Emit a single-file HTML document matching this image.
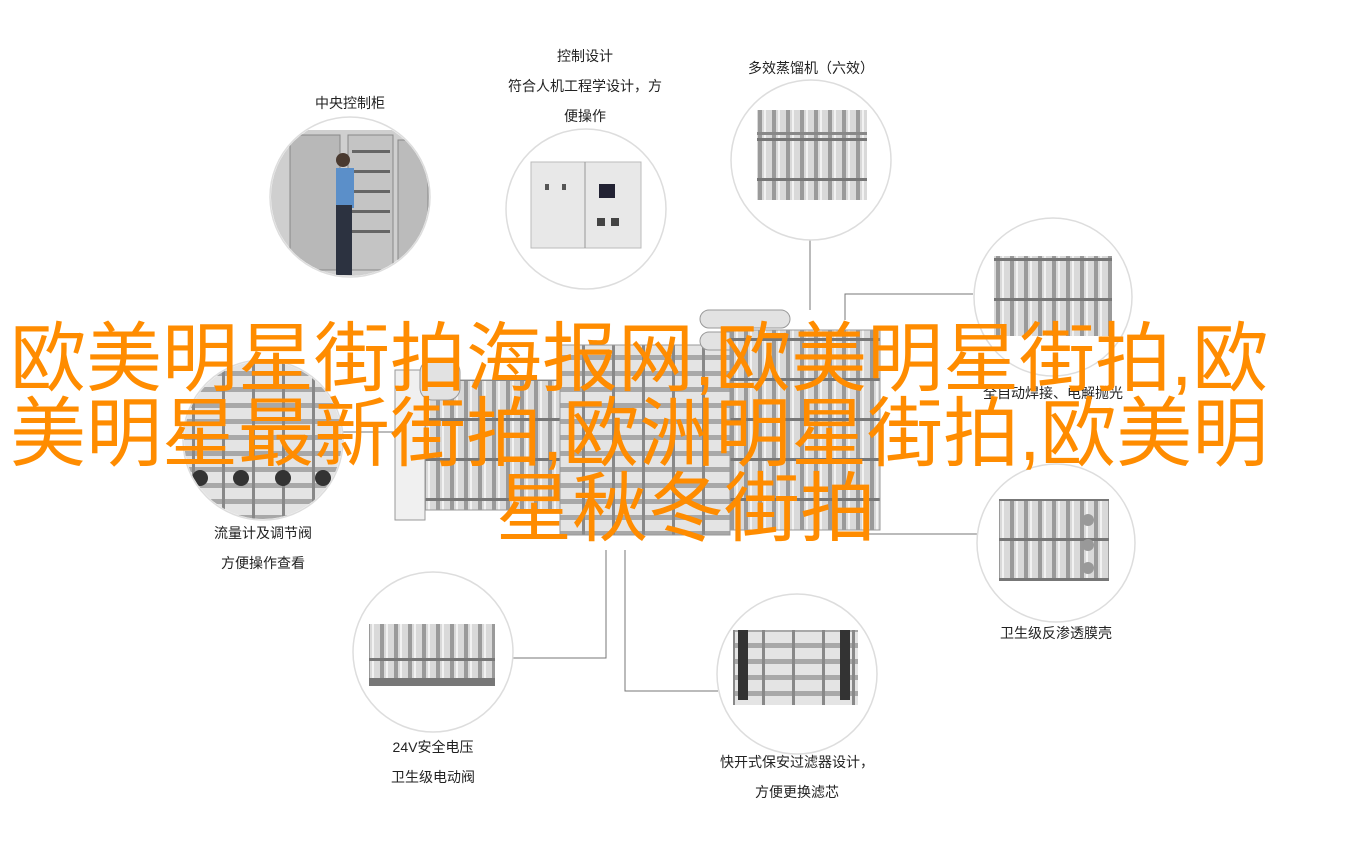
<!DOCTYPE html>
<html><head><meta charset="utf-8"><style>
html,body{margin:0;padding:0;background:#fff;}
body{width:1366px;height:856px;position:relative;overflow:hidden;font-family:"Liberation Sans","Noto Sans CJK SC",sans-serif;}
.lb{position:absolute;font-size:14px;color:#222;text-align:center;width:300px;line-height:30px;}
.big{position:absolute;color:#ff8c00;font-size:76px;line-height:75px;white-space:nowrap;font-family:"Liberation Sans","Noto Sans CJK SC",sans-serif;}
</style></head><body>
<svg width="1366" height="856" style="position:absolute;left:0;top:0">
<defs>
<pattern id="pipes" width="14" height="40" patternUnits="userSpaceOnUse">
<rect width="14" height="40" fill="#d9d9d9"/><rect x="2" width="4" height="40" fill="#9a9a9a"/><rect x="8" width="2" height="40" fill="#f2f2f2"/><rect y="18" width="14" height="3" fill="#777"/>
</pattern>
<pattern id="pipesH" width="30" height="16" patternUnits="userSpaceOnUse">
<rect width="30" height="16" fill="#e4e4e4"/><rect y="3" width="30" height="5" fill="#a8a8a8"/><rect x="12" width="3" height="16" fill="#888"/>
</pattern>
<clipPath id="c1"><circle cx="350" cy="197" r="79"/></clipPath>
<clipPath id="c5"><circle cx="263" cy="440" r="79"/></clipPath>
</defs>
<g fill="none" stroke="#777" stroke-width="1">
<polyline points="343,432 405,432"/>
<polyline points="810,240 810,310"/>
<polyline points="973,294 845,294 845,320"/>
<polyline points="977,534 860,534"/>
<polyline points="513,658 606,658 606,550"/>
<polyline points="718,691 625,691 625,550"/>
</g>
<g fill="#fff" stroke="#ddd" stroke-width="1.5">
<circle cx="350" cy="197" r="80"/>
<circle cx="586" cy="209" r="80"/>
<circle cx="811" cy="160" r="80"/>
<circle cx="1053" cy="297" r="79"/>
<circle cx="263" cy="440" r="80"/>
<circle cx="1056" cy="543" r="79"/>
<circle cx="433" cy="652" r="80"/>
<circle cx="797" cy="674" r="80"/>
</g>
<g clip-path="url(#c1)">
<rect x="270" y="130" width="160" height="150" fill="#cfcfcf"/>
<rect x="290" y="135" width="50" height="135" fill="#b8b8b8" stroke="#888"/>
<rect x="348" y="135" width="45" height="135" fill="#c4c4c4" stroke="#888"/>
<g fill="#666"><rect x="352" y="150" width="38" height="3"/><rect x="352" y="170" width="38" height="3"/><rect x="352" y="190" width="38" height="3"/><rect x="352" y="210" width="38" height="3"/><rect x="352" y="230" width="38" height="3"/></g>
<rect x="398" y="140" width="30" height="120" fill="#bbb" stroke="#888"/>
<rect x="336" y="168" width="18" height="40" fill="#5b8fc9"/>
<rect x="336" y="205" width="16" height="70" fill="#2c3240"/>
<circle cx="343" cy="160" r="7" fill="#4a3a30"/>
</g>
<rect x="531" y="162" width="110" height="86" fill="#e8e8e8" stroke="#bbb"/>
<line x1="585" y1="162" x2="585" y2="248" stroke="#999"/>
<rect x="599" y="184" width="16" height="14" fill="#223"/>
<rect x="545" y="184" width="4" height="6" fill="#555"/><rect x="562" y="184" width="4" height="6" fill="#555"/>
<rect x="597" y="218" width="8" height="8" fill="#444"/><rect x="611" y="218" width="8" height="8" fill="#444"/>
<rect x="757" y="110" width="110" height="90" fill="url(#pipes)"/>
<rect x="757" y="132" width="110" height="3" fill="#888"/>
<rect x="994" y="256" width="118" height="80" fill="url(#pipes)"/>
<g clip-path="url(#c5)"><rect x="183" y="360" width="160" height="160" fill="url(#pipesH)"/>
<g fill="#333"><circle cx="200" cy="478" r="8"/><circle cx="241" cy="478" r="8"/><circle cx="283" cy="478" r="8"/><circle cx="323" cy="478" r="8"/></g></g>
<rect x="999" y="499" width="110" height="82" fill="url(#pipes)"/>
<g fill="#999"><circle cx="1088" cy="520" r="6"/><circle cx="1088" cy="545" r="6"/><circle cx="1088" cy="568" r="6"/></g>
<rect x="369" y="624" width="126" height="62" fill="url(#pipes)"/>
<rect x="369" y="678" width="126" height="8" fill="#777"/>
<rect x="733" y="630" width="125" height="75" fill="url(#pipesH)"/>
<rect x="738" y="630" width="10" height="70" fill="#333"/><rect x="840" y="630" width="10" height="70" fill="#333"/>
<g stroke="#999" fill="#e2e2e2">
<rect x="395" y="370" width="30" height="150" fill="#f0f0f0"/>
<rect x="425" y="380" width="140" height="130" fill="url(#pipes)"/>
<rect x="560" y="345" width="170" height="190" fill="url(#pipesH)"/>
<rect x="700" y="310" width="90" height="18" rx="9"/>
<rect x="700" y="332" width="90" height="18" rx="9"/>
<rect x="730" y="330" width="150" height="200" fill="url(#pipes)"/>
<rect x="420" y="360" width="40" height="40" rx="12"/>
</g>
</svg>
<div class="lb" style="left:200px;top:88px">中央控制柜</div>
<div class="lb" style="left:435px;top:41px">控制设计<br>符合人机工程学设计，方<br>便操作</div>
<div class="lb" style="left:661px;top:53px">多效蒸馏机（六效）</div>
<div class="lb" style="left:903px;top:378px">全自动焊接、电解抛光</div>
<div class="lb" style="left:113px;top:518px">流量计及调节阀<br>方便操作查看</div>
<div class="lb" style="left:906px;top:618px">卫生级反渗透膜壳</div>
<div class="lb" style="left:283px;top:732px">24V安全电压<br>卫生级电动阀</div>
<div class="lb" style="left:647px;top:747px">快开式保安过滤器设计，<br>方便更换滤芯</div>
<div class="big" style="left:10px;top:322px">欧美明星街拍海报网,欧美明星街拍,欧</div>
<div class="big" style="left:10px;top:397px">美明星最新街拍,欧洲明星街拍,欧美明</div>
<div class="big" style="left:496px;top:472px">星秋冬街拍</div>
</body></html>
